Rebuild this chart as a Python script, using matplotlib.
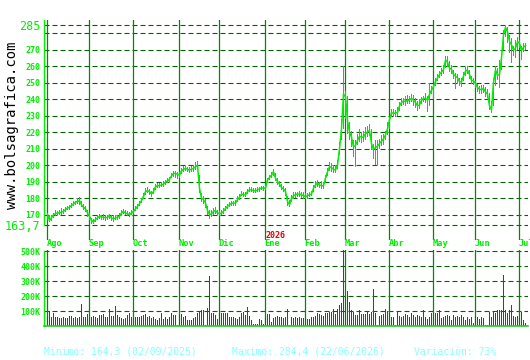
import matplotlib
matplotlib.use('Agg')
import matplotlib.pyplot as plt
import matplotlib.transforms as mtransforms
import numpy as np

# trading sessions per month, Aug 2025 .. Jul 2026
month_names = ['Ago', 'Sep', 'Oct', 'Nov', 'Dic', 'Ene', 'Feb', 'Mar', 'Abr', 'May', 'Jun', 'Jul']
month_sizes = [21, 22, 23, 20, 23, 20, 20, 22, 22, 21, 22, 4]

close = [
    170, 166.5, 168, 170, 170.5, 171, 171, 171.5, 172, 173, 174, 174.5, 175.5, 176.5, 177.5, 178, 178.5, 176, 174.5, 173.5, 171,
    169, 166.5, 165.5, 167, 168, 169, 168.5, 168.5, 168, 168.5, 169, 168, 167.5, 168, 168.5, 169, 171, 172, 171, 170.5, 170, 171,
    172, 173.5, 175, 176.5, 178.5, 181, 184, 184.5, 184, 182.5, 184, 187, 187.5, 187.5, 188, 188.5, 189.5, 190.5, 191.5, 193.5, 195, 195, 194.5,
    194, 196.5, 197.5, 198, 197.5, 197, 197.5, 198, 199, 200, 186, 180, 179, 177, 172.5, 170, 170.5, 172, 172.5, 171,
    170.5, 170.8, 172, 173.8, 175, 176, 176.8, 177, 177, 179, 180.5, 182.5, 182, 182, 184, 185, 185, 184.5, 184.5, 185, 185.5, 186.3, 186,
    186, 191, 192.5, 194, 196, 192, 190, 188.5, 186.5, 185.5, 184, 178, 176, 180, 181.5, 182, 182.5, 182.5, 182, 181.5,
    181, 181.5, 182, 182.5, 186, 188, 189, 188, 187.5, 187.5, 192, 196, 199, 198.5, 197.5, 197, 200, 210, 222, 243,
    241.5, 227, 220, 217, 211, 212, 215, 217.5, 217, 217, 219, 220, 221, 213, 209.5, 210.8, 211.6, 213, 214.5, 216, 218.3, 222,
    227.4, 231.8, 231.5, 231.5, 232, 236, 238, 239, 238.5, 239.5, 239.4, 240.5, 239.5, 238, 236, 236.5, 239.4, 240.5, 240.5, 239.4, 243, 245.5,
    247.6, 250.6, 253, 255, 256.5, 258, 263.8, 262.5, 259, 258, 255, 254, 253, 250.6, 250.6, 254, 257, 257.7, 255, 251.5, 251,
    249.6, 247, 246, 245.8, 246.5, 244.5, 243, 236, 233.5, 250, 257.7, 254.5, 255, 265, 279, 283.5, 281, 275, 273, 269.8, 270.9, 274.9,
    274, 269.5, 271.5, 272.5,
]

high = [
    171, 170, 169.5, 171, 172.5, 172, 172.5, 174, 173.5, 174.5, 175, 176, 177, 178, 178.5, 180, 180.5, 178, 176.5, 175, 173,
    171, 168, 167.5, 168.5, 170, 170.5, 170, 170.5, 169.5, 170, 170.5, 169.5, 169.5, 169.5, 170, 171, 172.5, 173.5, 172.5, 172, 171.5, 173,
    173, 175, 176.5, 178, 180, 183, 186, 186.5, 185.5, 184.5, 186, 188.5, 189, 189, 190, 190.5, 191, 192, 193, 195.5, 196.5, 196.5, 196,
    196, 198, 199.5, 199.5, 199, 199, 199.5, 200, 202, 202.5, 194, 183, 181, 179.5, 175, 172.5, 172.5, 174, 174.5, 173,
    172, 172.5, 174, 175.5, 176.5, 177.5, 178.5, 178.5, 179, 181, 182.5, 184.5, 184, 183.5, 185.5, 186.5, 186.5, 186, 186, 186.5, 187, 187.5, 187.5,
    188, 192.5, 194, 196, 197.5, 195, 192, 190.5, 188.5, 187.5, 186, 181, 179, 182, 183.5, 184, 184, 184.5, 184, 183.5,
    183, 183, 184, 184.5, 188, 190.5, 191, 190, 190.5, 190, 194, 198.5, 202, 201, 200, 200, 203, 214, 228, 260,
    245, 242, 226, 221, 215, 215.5, 219, 222, 220, 221, 223, 224, 225, 222, 213, 215, 215, 216, 218, 219, 221, 226,
    229, 234, 234, 233.5, 235, 238.5, 241, 241, 242, 242.5, 242, 243, 242.5, 241, 239, 240, 241.5, 242, 244, 242, 250, 248,
    249, 253, 255, 257, 259, 261, 266, 266, 263, 261, 258, 256, 255, 253, 253, 256.5, 259.5, 260, 258, 254, 253,
    251, 249, 248, 248.5, 248.5, 247.5, 246, 244, 239, 253, 260, 259, 264, 268, 282, 284.4, 283.5, 279, 277, 272, 276, 278,
    276, 272, 274, 274,
]

low = [
    167, 165.5, 166, 168, 169, 169.5, 170, 170, 170.5, 171.5, 172.5, 173, 174, 175, 176, 176.5, 176, 174.5, 173, 171.5, 168.5,
    167, 164.3, 164.5, 165.5, 166.5, 167.5, 167, 167, 166, 167, 167.5, 166, 165.5, 166.5, 167, 167.5, 169.5, 170.5, 169.5, 169, 168.5, 169.5,
    170.5, 172, 173.5, 175, 177, 179.5, 182, 183, 182, 180.5, 182.5, 185, 186, 186, 186.5, 187, 188, 189, 190, 192, 193, 192.5, 191.5,
    192.5, 194.5, 196, 196.5, 196, 195, 196, 196, 197, 197.5, 183, 177.5, 176.5, 174, 169.5, 167.5, 168.5, 170, 170.5, 169.5,
    169, 169.5, 170.5, 172, 173.5, 174.5, 175, 175.5, 175.5, 177.5, 179, 181, 180.5, 180.5, 182.5, 183.5, 183.5, 183, 183, 183.5, 184, 185, 184.5,
    185, 189, 191, 192.5, 193.5, 190.5, 188, 186.5, 185, 184, 181.5, 175.5, 174.5, 177.5, 179.5, 180, 180.5, 180.5, 180, 179.5,
    179.5, 179.5, 180.5, 181, 183.5, 186, 187, 186, 185.5, 185.5, 189, 193.5, 196.5, 196, 195.5, 195, 197.5, 206, 215, 222,
    228, 219, 215, 211, 205, 199, 212, 214, 213.5, 214, 215.5, 217, 217.5, 209, 204, 200, 200, 210, 211.5, 212, 215, 218,
    222, 229.5, 229, 229.5, 230, 233, 236, 236.5, 236, 237, 237, 238, 236, 234.5, 233, 234, 237, 238, 237.5, 232.5, 236, 243,
    240, 248, 251, 253, 254, 255, 259, 259.5, 256.5, 255.5, 252, 246, 249, 248, 247.5, 251, 254, 255, 252, 249, 248.5,
    247, 244.5, 243, 243, 243.5, 241.5, 240.5, 233.5, 231.5, 236, 248, 251.5, 247, 258, 270, 278, 274, 268, 262, 266, 265, 270,
    271, 264, 268.5, 270,
]

# volume in thousands of shares
volume = [
    65, 100, 58, 85, 60, 62, 56, 55, 58, 56, 53, 67, 70, 55, 58, 56, 60, 145, 58, 62, 80,
    62, 58, 65, 58, 52, 73, 71, 80, 58, 58, 111, 67, 67, 133, 73, 58, 52, 49, 53, 71, 84, 58,
    51, 58, 58, 58, 67, 73, 80, 58, 67, 51, 58, 44, 40, 53, 84, 47, 58, 44, 58, 84, 73, 73, 7,
    71, 80, 58, 67, 40, 40, 40, 53, 58, 84, 91, 107, 107, 7, 118, 333, 84, 84, 71, 44,
    107, 84, 89, 89, 84, 58, 58, 58, 53, 49, 58, 89, 96, 73, 124, 67, 40, 13, 13, 13, 44, 40, 13,
    51, 80, 80, 29, 51, 58, 67, 62, 58, 51, 58, 111, 7, 58, 51, 58, 53, 58, 53, 53,
    51, 44, 44, 58, 62, 67, 84, 80, 73, 67, 84, 89, 96, 96, 111, 80, 111, 140, 156, 505,
    196, 233, 162, 107, 96, 73, 73, 107, 80, 80, 80, 100, 80, 96, 244, 84, 7, 67, 73, 80, 111, 102,
    89, 58, 58, 7, 96, 67, 58, 67, 80, 73, 58, 84, 73, 58, 73, 67, 58, 107, 58, 44, 58, 84,
    84, 89, 89, 107, 51, 58, 67, 73, 67, 40, 73, 58, 67, 58, 73, 58, 40, 58, 44, 58, 20,
    58, 58, 44, 58, 51, 7, 7, 96, 58, 102, 84, 107, 107, 107, 340, 107, 84, 107, 140, 67, 58, 67,
    58, 96, 40, 20,
]

price_ticks = [285, 280, 270, 260, 250, 240, 230, 220, 210, 200, 190, 180, 170, 163.7]
price_labels = ['285', '', '270', '260', '250', '240', '230', '220', '210', '200', '190', '180', '170', '163,7']
vol_ticks = [100, 200, 300, 400, 500]
vol_labels = ['100K', '200K', '300K', '400K', '500K']

GREEN = '#00ee00'
DGREEN = '#006400'
MGREEN = '#008a00'
TEAL = '#1fa8b8'
RED = '#e00000'
MONO = 'DejaVu Sans Mono'

W, H = 530, 360


def box(l, t, r, b):
    return [l / W, 1 - b / H, (r - l) / W, (b - t) / H]


fig = plt.figure(figsize=(W / 100, H / 100), dpi=100)
ax = fig.add_axes(box(44, 20, 528, 240))
axv = fig.add_axes(box(44, 250, 528, 326))

x = np.arange(len(close))
starts = np.cumsum([0] + month_sizes[:-1])

# price scale: 285 at 25px, 163.7 at 225px
ppu = 200 / (285 - 163.7)
ax.set_ylim(163.7 - 15 / ppu, 285 + 5 / ppu)
ax.set_xlim(-1.5, 240.5)
axv.set_xlim(-1.5, 240.5)
axv.set_ylim(0, 507)

dash = (0, (4.5, 2.7))
for a, ticks in ((ax, price_ticks), (axv, vol_ticks)):
    for t in ticks:
        a.axhline(t, color=DGREEN, lw=0.8, linestyle=dash, zorder=1)
    for s in starts:
        a.axvline(s, color=MGREEN, lw=0.9, zorder=1)
    for sp in a.spines.values():
        sp.set_visible(False)
    a.spines['left'].set_visible(True)
    a.spines['left'].set_color(GREEN)
    a.spines['left'].set_linewidth(1.0)
    a.set_xticks([])
    a.tick_params(axis='y', length=0, pad=2.5, colors=GREEN)

ax.spines['left'].set_bounds(163.7, 285 + 5 / ppu)
axv.spines['left'].set_bounds(0, 500)
axv.spines['bottom'].set_visible(True)
axv.spines['bottom'].set_color('#22cc22')
axv.spines['bottom'].set_linewidth(1.2)

# one-pixel wide high-low bars and volume bars (half a session wide = 1px)
ax.bar(x, np.array(high) - np.array(low), bottom=low, width=0.5, align='edge',
       color=TEAL, linewidth=0, zorder=2)
ax.plot(x + 0.25, close, color=GREEN, lw=1.1, zorder=3)
axv.bar(x, volume, width=0.5, align='edge', color=RED, linewidth=0, zorder=2)

ax.set_yticks(price_ticks)
ax.set_yticklabels(price_labels, family=MONO, fontweight='bold', fontsize=6)
for lab in ax.get_yticklabels():
    if lab.get_text() in ('285', '163,7'):
        lab.set_fontsize(8.5)
        lab.set_fontweight('normal')
axv.set_yticks(vol_ticks)
axv.set_yticklabels(vol_labels, family=MONO, fontweight='bold', fontsize=6)

# month labels between the two panels
trans = mtransforms.blended_transform_factory(ax.transData, ax.transAxes)
for s, name in zip(starts, month_names):
    ax.text(s - 0.2, -4 / 220, name, transform=trans, ha='left', va='center',
            family=MONO, fontweight='bold', fontsize=6.2, color=GREEN, clip_on=False)
ax.text(starts[month_names.index('Ene')] + 0.3, 4 / 220, '2026', transform=trans, ha='left',
        va='center', family=MONO, fontweight='bold', fontsize=6, color=RED, clip_on=False)

fig.text(12 / W, 1 - 125 / H, 'www.bolsagrafica.com', rotation=90, ha='center', va='center',
         family=MONO, fontsize=10, color='black')

foot = '#88ffff'
fig.text(44 / W, 1 - 352 / H, 'Minimo: 164,3 (02/09/2025)', family=MONO, fontsize=7, color=foot, va='center')
fig.text(232 / W, 1 - 352 / H, 'Maximo: 284,4 (22/06/2026)', family=MONO, fontsize=7, color=foot, va='center')
fig.text(414 / W, 1 - 352 / H, 'Variación: 73%', family=MONO, fontsize=7, color=foot, va='center')

fig.savefig('out.png', dpi=100, facecolor='white')
